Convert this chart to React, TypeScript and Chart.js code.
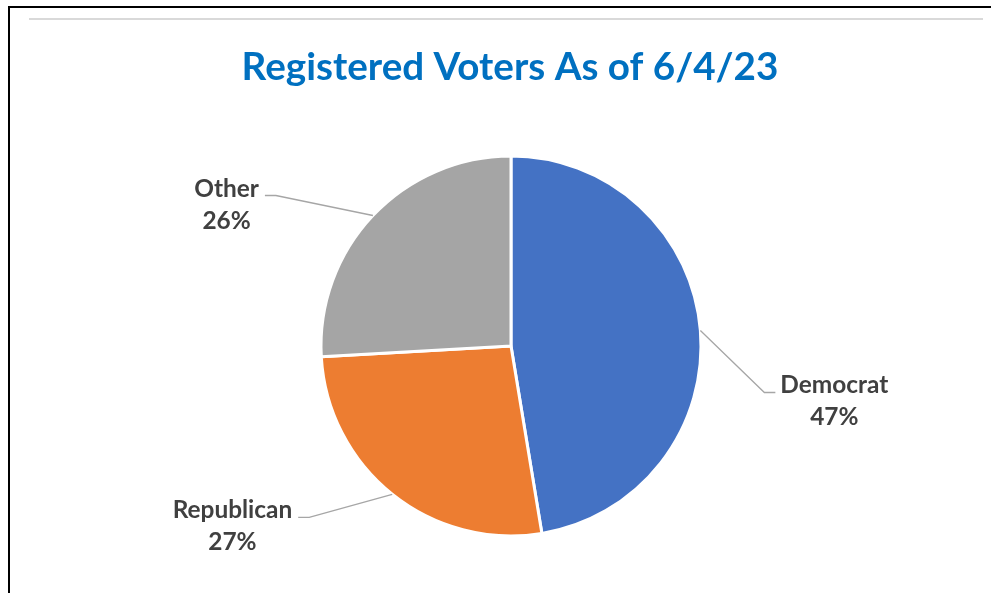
import React, { useEffect, useRef } from "react";
import { Chart, registerables } from "chart.js";

Chart.register(...registerables);

const categories = ["Democrat", "Republican", "Other"];
const shares = [47.4, 26.7, 25.9];
const sliceColors = ["#4472C4", "#ED7D31", "#A5A5A5"];
const titleText = "Registered Voters As of 6/4/23";

const FONT = "Lato, 'Open Sans', sans-serif";

// leader elbow offsets relative to the slice's mid-angle anchor point, and label side
const labelLayout = [
  { dx: 64, dy: 62, side: 1 },
  { dx: -83, dy: 23, side: -1 },
  { dx: -97, dy: -20, side: -1 },
];

function fitSize(ctx: CanvasRenderingContext2D, text: string, width: number): number {
  ctx.font = `bold 100px ${FONT}`;
  const w = ctx.measureText(text).width;
  return (100 * width) / w;
}

const decorPlugin = {
  id: "decor",
  afterDraw(chart: any) {
    const ctx: CanvasRenderingContext2D = chart.ctx;
    ctx.save();
    // outer frame (top & left)
    ctx.fillStyle = "#000000";
    ctx.fillRect(8, 6, chart.width - 8, 2);
    ctx.fillRect(8, 6, 2, chart.height - 6);
    // gray rule
    ctx.fillStyle = "#D9D9D9";
    ctx.fillRect(29, 18, 954, 2);

    // title
    const tSize = fitSize(ctx, titleText, 537);
    ctx.font = `bold ${tSize}px ${FONT}`;
    ctx.fillStyle = "#0070C0";
    ctx.textAlign = "center";
    ctx.textBaseline = "alphabetic";
    ctx.fillText(titleText, 510, 80);

    // data labels with leader lines
    const meta = chart.getDatasetMeta(0);
    const data = chart.data.datasets[0].data as number[];
    const total = data.reduce((a, b) => a + b, 0);
    const lSize = fitSize(ctx, "Democrat", 108);
    meta.data.forEach((arc: any, i: number) => {
      const p = arc.getProps(["x", "y", "startAngle", "endAngle", "outerRadius"], true);
      const mid = (p.startAngle + p.endAngle) / 2;
      const ax = p.x + Math.cos(mid) * p.outerRadius;
      const ay = p.y + Math.sin(mid) * p.outerRadius;
      const lay = labelLayout[i];
      const ex = ax + lay.dx;
      const ey = ay + lay.dy;
      const endX = ex + lay.side * 11;
      ctx.strokeStyle = "#A6A6A6";
      ctx.lineWidth = 1.3;
      ctx.beginPath();
      ctx.moveTo(ax, ay);
      ctx.lineTo(ex, ey);
      ctx.lineTo(endX, ey);
      ctx.stroke();

      const line1 = chart.data.labels[i] as string;
      const line2 = `${Math.round((data[i] / total) * 100)}%`;
      ctx.font = `bold ${lSize}px ${FONT}`;
      const bw = Math.max(ctx.measureText(line1).width, ctx.measureText(line2).width);
      const cx = lay.side > 0 ? endX + 5 + bw / 2 : endX - 6 - bw / 2;
      ctx.fillStyle = "#404040";
      ctx.textAlign = "center";
      ctx.fillText(line1, cx, ey + 1);
      ctx.fillText(line2, cx, ey + 33);
    });
    ctx.restore();
  },
};

export default function App() {
  const ref = useRef<HTMLCanvasElement>(null);
  useEffect(() => {
    const canvas = ref.current;
    if (!canvas) return;
    const chart = new Chart(canvas, {
      type: "pie",
      data: {
        labels: categories,
        datasets: [
          {
            data: shares,
            backgroundColor: sliceColors,
            borderColor: "#FFFFFF",
            borderWidth: 3,
          },
        ],
      },
      options: {
        animation: false,
        responsive: false,
        devicePixelRatio: 1,
        radius: 190,
        layout: { padding: { top: 120, bottom: 21, left: 131, right: 100 } },
        plugins: {
          legend: { display: false },
          tooltip: { enabled: false },
          title: { display: false },
        },
      } as any,
      plugins: [decorPlugin],
    });
    return () => chart.destroy();
  }, []);
  return (
    <div style={{ position: "absolute", left: 0, top: 0, width: 991, height: 593, background: "#fff" }}>
      <canvas ref={ref} width={991} height={593} style={{ display: "block" }} />
    </div>
  );
}
